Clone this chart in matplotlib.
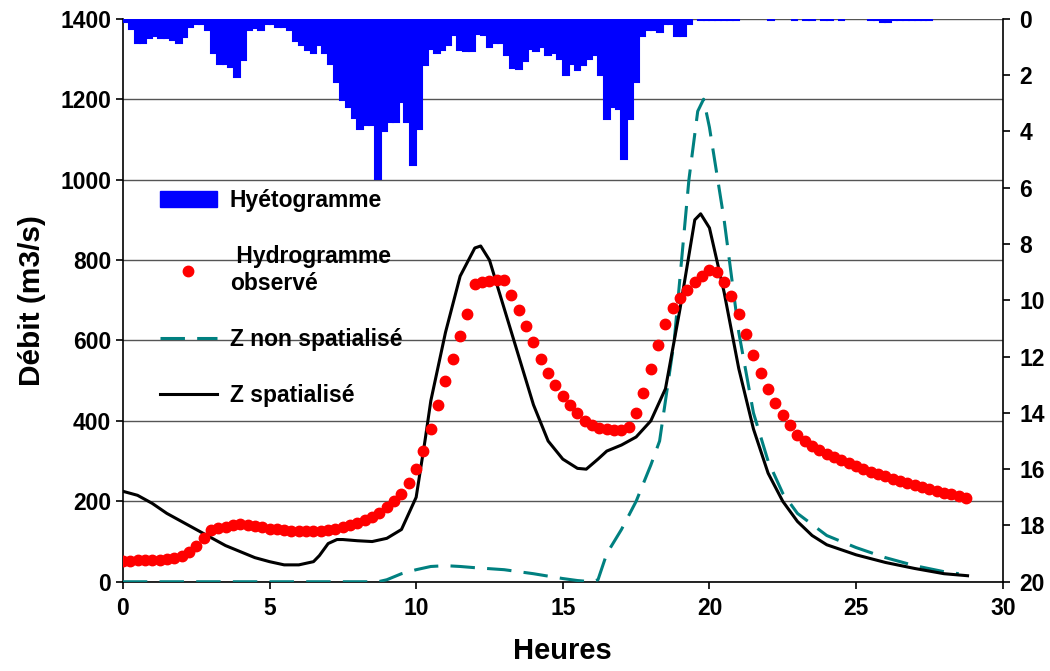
import numpy as np
import matplotlib.pyplot as plt
from matplotlib.lines import Line2D
from matplotlib.patches import Patch

plt.rcParams['font.family'] = ['Liberation Sans', 'DejaVu Sans']
plt.rcParams['font.weight'] = 'bold'

# hyetogram, mm per 0.2 h step
rain_step = 0.2
rain = [
    0.1, 0.35, 0.85, 0.85, 0.7, 0.6, 0.68, 0.68, 0.75, 0.85,
    0.65, 0.3, 0.2, 0.2, 0.4, 1.2, 1.6, 1.6, 1.7, 2.06,
    1.46, 0.4, 0.32, 0.4, 0.2, 0.2, 0.28, 0.28, 0.4, 0.8,
    0.92, 1.1, 1.23, 0.92, 1.23, 1.6, 2.24, 2.88, 3.13, 3.52,
    3.9, 3.77, 3.77, 5.68, 4.0, 3.66, 3.66, 2.95, 3.66, 5.2,
    3.9, 1.64, 1.07, 1.23, 1.1, 0.92, 0.57, 1.1, 1.14, 1.14,
    0.53, 0.57, 1.0, 0.85, 0.85, 1.28, 1.74, 1.78, 1.5, 1.07,
    1.14, 1.0, 1.28, 1.21, 1.42, 2.0, 1.6, 1.81, 1.63, 1.42,
    1.28, 2.0, 3.55, 3.13, 3.2, 4.97, 3.55, 2.24, 0.6, 0.4,
    0.4, 0.46, 0.2, 0.2, 0.6, 0.6, 0.2, 0.0, 0.05, 0.05,
    0.05, 0.05, 0.05, 0.05, 0.05, 0.0, 0.0, 0.0, 0.0, 0.0,
    0.05, 0.0, 0.0, 0.0, 0.05, 0.0, 0.05, 0.05, 0.0, 0.05,
    0.05, 0.0, 0.05, 0.0, 0.0, 0.0, 0.0, 0.05, 0.05, 0.1,
    0.1, 0.05, 0.05, 0.05, 0.05, 0.05, 0.05, 0.05,
]

# observed hydrograph, every 0.25 h
obs_step = 0.25
q_obs = [
    52, 52, 53, 53, 54, 55, 57, 60, 65, 75,
    90, 110, 128, 133, 137, 140, 143, 142, 138, 135,
    132, 130, 128, 127, 126, 126, 126, 127, 128, 131,
    135, 140, 146, 153, 162, 172, 185, 200, 218, 245,
    280, 325, 380, 440, 500, 555, 610, 665, 740, 745,
    748, 750, 750, 712, 675, 635, 595, 555, 520, 490,
    462, 440, 420, 400, 390, 383, 380, 378, 378, 385,
    420, 470, 530, 590, 640, 680, 705, 725, 745, 760,
    775, 770, 745, 710, 665, 615, 565, 520, 480, 445,
    415, 390, 365, 350, 338, 327, 317, 310, 302, 295,
    288, 281, 274, 268, 262, 256, 250, 245, 240, 235,
    230, 226, 221, 217, 213, 209,
]

# Z spatialise
t_spat = [0, 0.5, 1, 1.5, 2, 2.5, 3, 3.5, 4, 4.5, 5, 5.5, 6, 6.5, 6.7, 7, 7.3,
          7.5, 8, 8.5, 9, 9.5, 10, 10.3, 10.5, 11, 11.5, 12, 12.2, 12.5, 13,
          13.5, 14, 14.5, 15, 15.5, 15.8, 16.2, 16.5, 17, 17.5, 18, 18.5, 19,
          19.5, 19.7, 20, 20.5, 21, 21.5, 22, 22.5, 23, 23.5, 24, 25, 26, 27,
          28, 28.8]
q_spat = [225, 215, 195, 170, 150, 130, 110, 90, 75, 60, 50, 42, 42, 50, 65,
          95, 105, 105, 102, 100, 108, 130, 210, 350, 450, 620, 760, 830, 835,
          800, 680, 560, 440, 350, 305, 282, 280, 305, 325, 340, 360, 400, 480,
          680, 900, 915, 880, 720, 530, 380, 270, 200, 150, 115, 92, 67, 48, 33,
          20, 15]

# Z non spatialise
t_nonspat = [0, 8.7, 9, 9.5, 10, 10.5, 11, 11.5, 12, 13, 14, 15, 15.5, 16, 16.2,
             16.5, 17, 17.5, 18, 18.3, 18.8, 19.3, 19.6, 19.8, 20, 20.5, 21, 21.5,
             22, 22.5, 23, 24, 25, 26, 27, 28, 28.5]
q_nonspat = [0, 0, 5, 20, 30, 38, 40, 38, 35, 30, 20, 8, 3, 0, 5, 70, 130, 200,
             290, 350, 600, 1000, 1170, 1200, 1130, 900, 620, 420, 300, 220, 170,
             115, 85, 60, 40, 25, 20]

fig = plt.figure(figsize=(10.5, 6.71), dpi=100)
ax = fig.add_axes([0.117, 0.133, 0.838, 0.839])

ax.set_xlim(0, 30)
ax.set_ylim(0, 1400)
ax.set_yticks(range(0, 1401, 200))
ax.set_xticks(range(0, 31, 5))
ax.yaxis.grid(True, color='#555555', linewidth=1.0)
ax.set_axisbelow(True)
ax.tick_params(labelsize=16.5, width=1.2, length=5)
ax.tick_params(axis='x', pad=6)
for s in ['top', 'right']:
    ax.spines[s].set_visible(False)
for s in ['left', 'bottom']:
    ax.spines[s].set_linewidth(1.2)

t_obs = np.arange(len(q_obs)) * obs_step
ax.plot(t_nonspat, q_nonspat, color='#008080', lw=2.2, dashes=(8, 4), zorder=3)
ax.plot(t_spat, q_spat, color='black', lw=2.2, zorder=4)
ax.plot(t_obs, q_obs, 'o', color='#ff0000', ms=7.5, mec='#ff0000', zorder=5)

ax.set_xlabel('Heures', fontsize=21, fontweight='bold', labelpad=12)
ax.set_ylabel('Débit (m3/s)', fontsize=21.5, fontweight='bold', labelpad=10)

ax2 = ax.twinx()
ax2.set_ylim(20, 0)
ax2.set_yticks(range(0, 21, 2))
ax2.tick_params(labelsize=16.5, width=1.2, length=5, pad=7)
ax2.spines['top'].set_visible(False)
ax2.spines['left'].set_visible(False)
ax2.spines['bottom'].set_visible(False)
ax2.spines['right'].set_linewidth(1.2)

t_rain = np.arange(len(rain)) * rain_step
mask = np.array(rain) > 0
ax2.bar(t_rain[mask], np.array(rain)[mask], width=rain_step, align='edge',
        color='#0000ff', edgecolor='#0000ff', linewidth=1.5, zorder=2)

handles = [
    Patch(facecolor='#0000ff', edgecolor='#0000ff'),
    Line2D([], [], ls='none', marker='o', color='#ff0000', ms=7.5),
    Line2D([], [], color='#008080', lw=2.2, dashes=(8, 4)),
    Line2D([], [], color='black', lw=2.2),
]
labels = ['Hyétogramme', ' Hydrogramme\nobservé', 'Z non spatialisé', 'Z spatialisé']
ax2.legend(handles, labels, loc='upper left', bbox_to_anchor=(0.042, 0.698),
           frameon=False, fontsize=16.5, labelspacing=1.45, handlelength=2.5,
           handletextpad=0.55, borderpad=0, borderaxespad=0)

fig.savefig('out.png', dpi=100)
